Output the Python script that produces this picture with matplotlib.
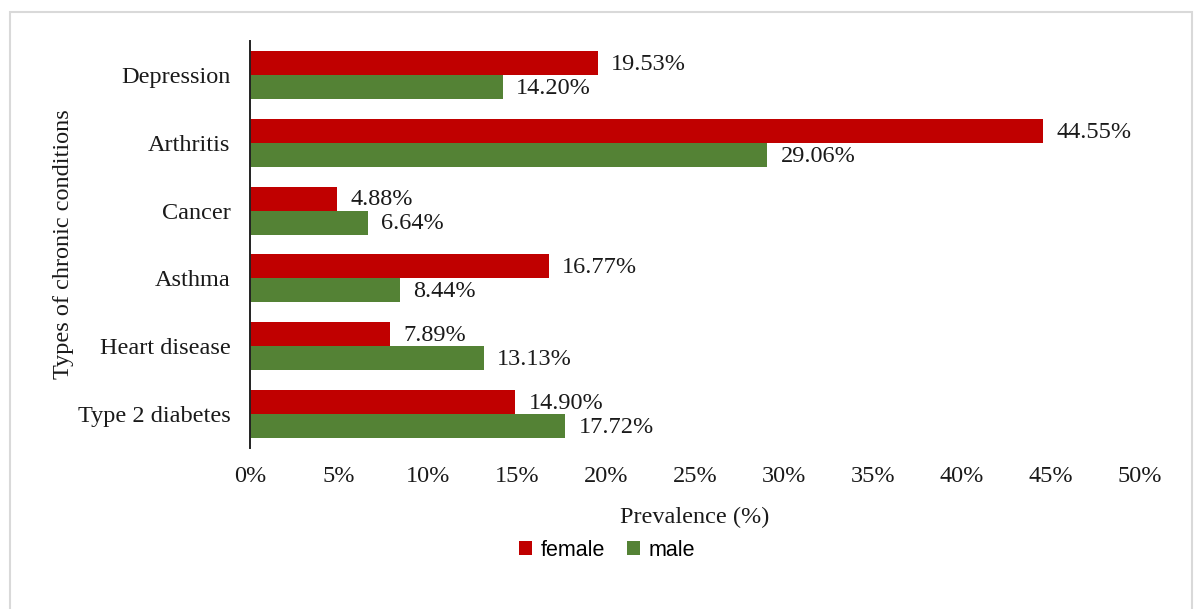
import numpy as np
import matplotlib
matplotlib.use("Agg")
from matplotlib import pyplot as plt
from matplotlib.patches import Rectangle

# data (top to bottom)
categories = ["Depression", "Arthritis", "Cancer", "Asthma", "Heart disease", "Type 2 diabetes"]
female = [19.53, 44.55, 4.88, 16.77, 7.89, 14.90]
male = [14.20, 29.06, 6.64, 8.44, 13.13, 17.72]
xticks = [0, 5, 10, 15, 20, 25, 30, 35, 40, 45, 50]

RED = "#C00000"
GREEN = "#548235"
SERIF = "Liberation Serif"
FS = 17.5

fig = plt.figure(figsize=(11.95, 6.09), dpi=100)
# light grey frame around the whole chart
fig.patches.append(Rectangle((10 / 1195, -0.05), 1182 / 1195, 1.05 - 12 / 609,
                             transform=fig.transFigure, fill=False,
                             edgecolor="#D9D9D9", linewidth=1.5))

ax = fig.add_axes([250 / 1195, 1 - 448 / 609, 890 / 1195, 407 / 609])

y = np.arange(len(categories))
h = 0.353
b_f = ax.barh(y - h / 2, female, height=h, color=RED, label="female")
b_m = ax.barh(y + h / 2, male, height=h, color=GREEN, label="male")

for bars, vals in ((b_f, female), (b_m, male)):
    for bar, v in zip(bars, vals):
        ax.annotate(f"{v:.2f}%", (bar.get_width(), bar.get_y() + bar.get_height() / 2),
                    xytext=(9.5, -1), textcoords="offset points", ha="left", va="center",
                    fontsize=FS, family=SERIF, color="#1a1a1a")

ax.set_ylim(-0.5, len(categories) - 0.5)
ax.invert_yaxis()
ax.set_xlim(0, 50)
ax.set_xticks(xticks)
ax.set_xticklabels([f"{t}%" for t in xticks])
ax.set_yticks(y)
ax.set_yticklabels(categories)
ax.tick_params(length=0, labelsize=FS, colors="#1a1a1a")
ax.tick_params(axis="y", pad=14)
ax.tick_params(axis="x", pad=13)
for lab in ax.get_xticklabels() + ax.get_yticklabels():
    lab.set_family(SERIF)

for s in ("top", "right", "bottom"):
    ax.spines[s].set_visible(False)
ax.spines["left"].set_linewidth(1.4)
ax.spines["left"].set_color("#222222")

ax.set_xlabel("Prevalence (%)", fontsize=FS, family=SERIF, labelpad=14, color="#1a1a1a")
ax.set_ylabel("Types of chronic conditions", fontsize=FS, family=SERIF, color="#1a1a1a")
ax.yaxis.set_label_coords(-0.198, 0.5)

fig.legend(handles=[b_f, b_m], loc="center", bbox_to_anchor=(607 / 1195, 1 - 550 / 609),
           ncol=2, frameon=False, handlelength=0.6, handleheight=0.6, handletextpad=0.4,
           columnspacing=1.0, prop={"family": "Liberation Sans", "size": 15.5})

fig.savefig("out.png", dpi=100)
